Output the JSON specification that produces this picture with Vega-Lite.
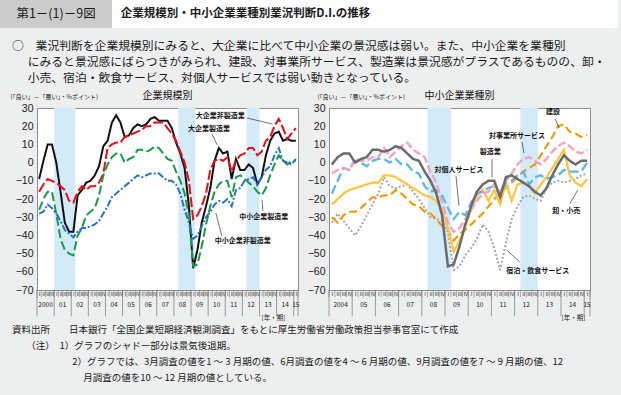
{
  "$schema": "https://vega.github.io/schema/vega-lite/v6.json",
  "background": "#edeeee",
  "padding": 0,
  "autosize": {"type": "pad"},
  "spacing": 12,
  "datasets": {
    "left": [
      {"s":"大企業製造業","t":0,"v":-9},{"s":"大企業製造業","t":1,"v":1},{"s":"大企業製造業","t":2,"v":10},{"s":"大企業製造業","t":3,"v":10},{"s":"大企業製造業","t":4,"v":0},{"s":"大企業製造業","t":5,"v":-16},{"s":"大企業製造業","t":6,"v":-33},{"s":"大企業製造業","t":7,"v":-38},{"s":"大企業製造業","t":8,"v":-38},{"s":"大企業製造業","t":9,"v":-18},
      {"s":"大企業製造業","t":10,"v":-15},{"s":"大企業製造業","t":11,"v":-11},{"s":"大企業製造業","t":12,"v":-10},{"s":"大企業製造業","t":13,"v":-7},{"s":"大企業製造業","t":14,"v":-2},{"s":"大企業製造業","t":15,"v":9},{"s":"大企業製造業","t":16,"v":12},{"s":"大企業製造業","t":17,"v":22},{"s":"大企業製造業","t":18,"v":26},{"s":"大企業製造業","t":19,"v":22},
      {"s":"大企業製造業","t":20,"v":14},{"s":"大企業製造業","t":21,"v":15},{"s":"大企業製造業","t":22,"v":19},{"s":"大企業製造業","t":23,"v":21},{"s":"大企業製造業","t":24,"v":20},{"s":"大企業製造業","t":25,"v":21},{"s":"大企業製造業","t":26,"v":24},{"s":"大企業製造業","t":27,"v":25},{"s":"大企業製造業","t":28,"v":23},{"s":"大企業製造業","t":29,"v":23},
      {"s":"大企業製造業","t":30,"v":23},{"s":"大企業製造業","t":31,"v":19},{"s":"大企業製造業","t":32,"v":11},{"s":"大企業製造業","t":33,"v":5},{"s":"大企業製造業","t":34,"v":-3},{"s":"大企業製造業","t":35,"v":-24},{"s":"大企業製造業","t":36,"v":-58},{"s":"大企業製造業","t":37,"v":-48},{"s":"大企業製造業","t":38,"v":-33},{"s":"大企業製造業","t":39,"v":-24},
      {"s":"大企業製造業","t":40,"v":-14},{"s":"大企業製造業","t":41,"v":1},{"s":"大企業製造業","t":42,"v":8},{"s":"大企業製造業","t":43,"v":5},{"s":"大企業製造業","t":44,"v":6},{"s":"大企業製造業","t":45,"v":-9},{"s":"大企業製造業","t":46,"v":2},{"s":"大企業製造業","t":47,"v":-4},{"s":"大企業製造業","t":48,"v":-4},{"s":"大企業製造業","t":49,"v":-1},
      {"s":"大企業製造業","t":50,"v":-3},{"s":"大企業製造業","t":51,"v":-12},{"s":"大企業製造業","t":52,"v":-8},{"s":"大企業製造業","t":53,"v":4},{"s":"大企業製造業","t":54,"v":12},{"s":"大企業製造業","t":55,"v":16},{"s":"大企業製造業","t":56,"v":17},{"s":"大企業製造業","t":57,"v":12},{"s":"大企業製造業","t":58,"v":13},{"s":"大企業製造業","t":59,"v":12},{"s":"大企業製造業","t":60,"v":12},
      {"s":"大企業非製造業","t":0,"v":-16},{"s":"大企業非製造業","t":1,"v":-12},{"s":"大企業非製造業","t":2,"v":-9},{"s":"大企業非製造業","t":3,"v":-10},{"s":"大企業非製造業","t":4,"v":-11},{"s":"大企業非製造業","t":5,"v":-13},{"s":"大企業非製造業","t":6,"v":-15},{"s":"大企業非製造業","t":7,"v":-21},{"s":"大企業非製造業","t":8,"v":-22},{"s":"大企業非製造業","t":9,"v":-16},
      {"s":"大企業非製造業","t":10,"v":-13},{"s":"大企業非製造業","t":11,"v":-15},{"s":"大企業非製造業","t":12,"v":-13},{"s":"大企業非製造業","t":13,"v":-13},{"s":"大企業非製造業","t":14,"v":-11},{"s":"大企業非製造業","t":15,"v":-6},{"s":"大企業非製造業","t":16,"v":8},{"s":"大企業非製造業","t":17,"v":10},{"s":"大企業非製造業","t":18,"v":11},{"s":"大企業非製造業","t":19,"v":11},
      {"s":"大企業非製造業","t":20,"v":14},{"s":"大企業非製造業","t":21,"v":15},{"s":"大企業非製造業","t":22,"v":16},{"s":"大企業非製造業","t":23,"v":17},{"s":"大企業非製造業","t":24,"v":18},{"s":"大企業非製造業","t":25,"v":20},{"s":"大企業非製造業","t":26,"v":20},{"s":"大企業非製造業","t":27,"v":22},{"s":"大企業非製造業","t":28,"v":22},{"s":"大企業非製造業","t":29,"v":22},
      {"s":"大企業非製造業","t":30,"v":19},{"s":"大企業非製造業","t":31,"v":16},{"s":"大企業非製造業","t":32,"v":12},{"s":"大企業非製造業","t":33,"v":6},{"s":"大企業非製造業","t":34,"v":0},{"s":"大企業非製造業","t":35,"v":-10},{"s":"大企業非製造業","t":36,"v":-31},{"s":"大企業非製造業","t":37,"v":-29},{"s":"大企業非製造業","t":38,"v":-24},{"s":"大企業非製造業","t":39,"v":-17},
      {"s":"大企業非製造業","t":40,"v":-4},{"s":"大企業非製造業","t":41,"v":1},{"s":"大企業非製造業","t":42,"v":2},{"s":"大企業非製造業","t":43,"v":1},{"s":"大企業非製造業","t":44,"v":3},{"s":"大企業非製造業","t":45,"v":-5},{"s":"大企業非製造業","t":46,"v":1},{"s":"大企業非製造業","t":47,"v":4},{"s":"大企業非製造業","t":48,"v":5},{"s":"大企業非製造業","t":49,"v":8},
      {"s":"大企業非製造業","t":50,"v":8},{"s":"大企業非製造業","t":51,"v":4},{"s":"大企業非製造業","t":52,"v":6},{"s":"大企業非製造業","t":53,"v":12},{"s":"大企業非製造業","t":54,"v":14},{"s":"大企業非製造業","t":55,"v":20},{"s":"大企業非製造業","t":56,"v":24},{"s":"大企業非製造業","t":57,"v":19},{"s":"大企業非製造業","t":58,"v":13},{"s":"大企業非製造業","t":59,"v":16},{"s":"大企業非製造業","t":60,"v":19},
      {"s":"中小企業製造業","t":0,"v":-26},{"s":"中小企業製造業","t":1,"v":-20},{"s":"中小企業製造業","t":2,"v":-16},{"s":"中小企業製造業","t":3,"v":-16},{"s":"中小企業製造業","t":4,"v":-28},{"s":"中小企業製造業","t":5,"v":-42},{"s":"中小企業製造業","t":6,"v":-48},{"s":"中小企業製造業","t":7,"v":-50},{"s":"中小企業製造業","t":8,"v":-51},{"s":"中小企業製造業","t":9,"v":-40},
      {"s":"中小企業製造業","t":10,"v":-36},{"s":"中小企業製造業","t":11,"v":-29},{"s":"中小企業製造業","t":12,"v":-27},{"s":"中小企業製造業","t":13,"v":-25},{"s":"中小企業製造業","t":14,"v":-18},{"s":"中小企業製造業","t":15,"v":-7},{"s":"中小企業製造業","t":16,"v":-1},{"s":"中小企業製造業","t":17,"v":3},{"s":"中小企業製造業","t":18,"v":5},{"s":"中小企業製造業","t":19,"v":5},
      {"s":"中小企業製造業","t":20,"v":0},{"s":"中小企業製造業","t":21,"v":2},{"s":"中小企業製造業","t":22,"v":3},{"s":"中小企業製造業","t":23,"v":7},{"s":"中小企業製造業","t":24,"v":7},{"s":"中小企業製造業","t":25,"v":6},{"s":"中小企業製造業","t":26,"v":7},{"s":"中小企業製造業","t":27,"v":9},{"s":"中小企業製造業","t":28,"v":8},{"s":"中小企業製造業","t":29,"v":5},
      {"s":"中小企業製造業","t":30,"v":2},{"s":"中小企業製造業","t":31,"v":1},{"s":"中小企業製造業","t":32,"v":-5},{"s":"中小企業製造業","t":33,"v":-10},{"s":"中小企業製造業","t":34,"v":-17},{"s":"中小企業製造業","t":35,"v":-29},{"s":"中小企業製造業","t":36,"v":-57},{"s":"中小企業製造業","t":37,"v":-56},{"s":"中小企業製造業","t":38,"v":-46},{"s":"中小企業製造業","t":39,"v":-34},
      {"s":"中小企業製造業","t":40,"v":-24},{"s":"中小企業製造業","t":41,"v":-16},{"s":"中小企業製造業","t":42,"v":-12},{"s":"中小企業製造業","t":43,"v":-10},{"s":"中小企業製造業","t":44,"v":-10},{"s":"中小企業製造業","t":45,"v":-19},{"s":"中小企業製造業","t":46,"v":-8},{"s":"中小企業製造業","t":47,"v":-7},{"s":"中小企業製造業","t":48,"v":-9},{"s":"中小企業製造業","t":49,"v":-11},
      {"s":"中小企業製造業","t":50,"v":-13},{"s":"中小企業製造業","t":51,"v":-16},{"s":"中小企業製造業","t":52,"v":-18},{"s":"中小企業製造業","t":53,"v":-14},{"s":"中小企業製造業","t":54,"v":-7},{"s":"中小企業製造業","t":55,"v":-1},{"s":"中小企業製造業","t":56,"v":4},{"s":"中小企業製造業","t":57,"v":1},{"s":"中小企業製造業","t":58,"v":-1},{"s":"中小企業製造業","t":59,"v":1},{"s":"中小企業製造業","t":60,"v":1},
      {"s":"中小企業非製造業","t":0,"v":-28},{"s":"中小企業非製造業","t":1,"v":-27},{"s":"中小企業非製造業","t":2,"v":-23},{"s":"中小企業非製造業","t":3,"v":-25},{"s":"中小企業非製造業","t":4,"v":-28},{"s":"中小企業非製造業","t":5,"v":-32},{"s":"中小企業非製造業","t":6,"v":-37},{"s":"中小企業非製造業","t":7,"v":-39},{"s":"中小企業非製造業","t":8,"v":-41},{"s":"中小企業非製造業","t":9,"v":-38},
      {"s":"中小企業非製造業","t":10,"v":-36},{"s":"中小企業非製造業","t":11,"v":-36},{"s":"中小企業非製造業","t":12,"v":-35},{"s":"中小企業非製造業","t":13,"v":-34},{"s":"中小企業非製造業","t":14,"v":-32},{"s":"中小企業非製造業","t":15,"v":-28},{"s":"中小企業非製造業","t":16,"v":-24},{"s":"中小企業非製造業","t":17,"v":-19},{"s":"中小企業非製造業","t":18,"v":-17},{"s":"中小企業非製造業","t":19,"v":-15},
      {"s":"中小企業非製造業","t":20,"v":-13},{"s":"中小企業非製造業","t":21,"v":-11},{"s":"中小企業非製造業","t":22,"v":-9},{"s":"中小企業非製造業","t":23,"v":-7},{"s":"中小企業非製造業","t":24,"v":-8},{"s":"中小企業非製造業","t":25,"v":-7},{"s":"中小企業非製造業","t":26,"v":-6},{"s":"中小企業非製造業","t":27,"v":-6},{"s":"中小企業非製造業","t":28,"v":-6},{"s":"中小企業非製造業","t":29,"v":-8},
      {"s":"中小企業非製造業","t":30,"v":-10},{"s":"中小企業非製造業","t":31,"v":-10},{"s":"中小企業非製造業","t":32,"v":-12},{"s":"中小企業非製造業","t":33,"v":-17},{"s":"中小企業非製造業","t":34,"v":-26},{"s":"中小企業非製造業","t":35,"v":-33},{"s":"中小企業非製造業","t":36,"v":-42},{"s":"中小企業非製造業","t":37,"v":-40},{"s":"中小企業非製造業","t":38,"v":-35},{"s":"中小企業非製造業","t":39,"v":-30},
      {"s":"中小企業非製造業","t":40,"v":-27},{"s":"中小企業非製造業","t":41,"v":-23},{"s":"中小企業非製造業","t":42,"v":-21},{"s":"中小企業非製造業","t":43,"v":-22},{"s":"中小企業非製造業","t":44,"v":-20},{"s":"中小企業非製造業","t":45,"v":-24},{"s":"中小企業非製造業","t":46,"v":-15},{"s":"中小企業非製造業","t":47,"v":-14},{"s":"中小企業非製造業","t":48,"v":-10},{"s":"中小企業非製造業","t":49,"v":-9},
      {"s":"中小企業非製造業","t":50,"v":-8},{"s":"中小企業非製造業","t":51,"v":-12},{"s":"中小企業非製造業","t":52,"v":-8},{"s":"中小企業非製造業","t":53,"v":-4},{"s":"中小企業非製造業","t":54,"v":-2},{"s":"中小企業非製造業","t":55,"v":4},{"s":"中小企業非製造業","t":56,"v":8},{"s":"中小企業非製造業","t":57,"v":1},{"s":"中小企業非製造業","t":58,"v":0},{"s":"中小企業非製造業","t":59,"v":-1},{"s":"中小企業非製造業","t":60,"v":2}
    ],
    "right": [
      {"s":"宿泊・飲食サービス","t":0,"v":-33},{"s":"宿泊・飲食サービス","t":1,"v":-28},{"s":"宿泊・飲食サービス","t":2,"v":-32},{"s":"宿泊・飲食サービス","t":3,"v":-36},{"s":"宿泊・飲食サービス","t":4,"v":-40},{"s":"宿泊・飲食サービス","t":5,"v":-35},{"s":"宿泊・飲食サービス","t":6,"v":-29},{"s":"宿泊・飲食サービス","t":7,"v":-23},{"s":"宿泊・飲食サービス","t":8,"v":-17},{"s":"宿泊・飲食サービス","t":9,"v":-8},
      {"s":"宿泊・飲食サービス","t":10,"v":-13},{"s":"宿泊・飲食サービス","t":11,"v":-14},{"s":"宿泊・飲食サービス","t":12,"v":-13},{"s":"宿泊・飲食サービス","t":13,"v":-12},{"s":"宿泊・飲食サービス","t":14,"v":-16},{"s":"宿泊・飲食サービス","t":15,"v":-20},{"s":"宿泊・飲食サービス","t":16,"v":-25},{"s":"宿泊・飲食サービス","t":17,"v":-30},{"s":"宿泊・飲食サービス","t":18,"v":-31},{"s":"宿泊・飲食サービス","t":19,"v":-32},
      {"s":"宿泊・飲食サービス","t":20,"v":-38},{"s":"宿泊・飲食サービス","t":21,"v":-59},{"s":"宿泊・飲食サービス","t":22,"v":-57},{"s":"宿泊・飲食サービス","t":23,"v":-51},{"s":"宿泊・飲食サービス","t":24,"v":-47},{"s":"宿泊・飲食サービス","t":25,"v":-42},{"s":"宿泊・飲食サービス","t":26,"v":-34},{"s":"宿泊・飲食サービス","t":27,"v":-38},{"s":"宿泊・飲食サービス","t":28,"v":-47},{"s":"宿泊・飲食サービス","t":29,"v":-59},
      {"s":"宿泊・飲食サービス","t":30,"v":-44},{"s":"宿泊・飲食サービス","t":31,"v":-31},{"s":"宿泊・飲食サービス","t":32,"v":-24},{"s":"宿泊・飲食サービス","t":33,"v":-19},{"s":"宿泊・飲食サービス","t":34,"v":-18},{"s":"宿泊・飲食サービス","t":35,"v":-20},{"s":"宿泊・飲食サービス","t":36,"v":-21},{"s":"宿泊・飲食サービス","t":37,"v":-14},{"s":"宿泊・飲食サービス","t":38,"v":-11},{"s":"宿泊・飲食サービス","t":39,"v":-10},
      {"s":"宿泊・飲食サービス","t":40,"v":-11},{"s":"宿泊・飲食サービス","t":41,"v":-10},{"s":"宿泊・飲食サービス","t":42,"v":-9},{"s":"宿泊・飲食サービス","t":43,"v":-7},{"s":"宿泊・飲食サービス","t":44,"v":-6},
      {"s":"建設","t":0,"v":-30},{"s":"建設","t":1,"v":-33},{"s":"建設","t":2,"v":-29},{"s":"建設","t":3,"v":-27},{"s":"建設","t":4,"v":-27},{"s":"建設","t":5,"v":-25},{"s":"建設","t":6,"v":-22},{"s":"建設","t":7,"v":-19},{"s":"建設","t":8,"v":-19},{"s":"建設","t":9,"v":-18},
      {"s":"建設","t":10,"v":-18},{"s":"建設","t":11,"v":-15},{"s":"建設","t":12,"v":-17},{"s":"建設","t":13,"v":-20},{"s":"建設","t":14,"v":-23},{"s":"建設","t":15,"v":-24},{"s":"建設","t":16,"v":-27},{"s":"建設","t":17,"v":-28},{"s":"建設","t":18,"v":-31},{"s":"建設","t":19,"v":-35},
      {"s":"建設","t":20,"v":-37},{"s":"建設","t":21,"v":-43},{"s":"建設","t":22,"v":-39},{"s":"建設","t":23,"v":-37},{"s":"建設","t":24,"v":-34},{"s":"建設","t":25,"v":-31},{"s":"建設","t":26,"v":-28},{"s":"建設","t":27,"v":-24},{"s":"建設","t":28,"v":-20},{"s":"建設","t":29,"v":-17},
      {"s":"建設","t":30,"v":-14},{"s":"建設","t":31,"v":-11},{"s":"建設","t":32,"v":-8},{"s":"建設","t":33,"v":-5},{"s":"建設","t":34,"v":-3},{"s":"建設","t":35,"v":-1},{"s":"建設","t":36,"v":4},{"s":"建設","t":37,"v":9},{"s":"建設","t":38,"v":14},{"s":"建設","t":39,"v":20},
      {"s":"建設","t":40,"v":21},{"s":"建設","t":41,"v":17},{"s":"建設","t":42,"v":16},{"s":"建設","t":43,"v":14},{"s":"建設","t":44,"v":15},
      {"s":"卸・小売","t":0,"v":-23},{"s":"卸・小売","t":1,"v":-20},{"s":"卸・小売","t":2,"v":-17},{"s":"卸・小売","t":3,"v":-15},{"s":"卸・小売","t":4,"v":-14},{"s":"卸・小売","t":5,"v":-13},{"s":"卸・小売","t":6,"v":-12},{"s":"卸・小売","t":7,"v":-11},{"s":"卸・小売","t":8,"v":-11},{"s":"卸・小売","t":9,"v":-7},
      {"s":"卸・小売","t":10,"v":-7},{"s":"卸・小売","t":11,"v":-8},{"s":"卸・小売","t":12,"v":-10},{"s":"卸・小売","t":13,"v":-12},{"s":"卸・小売","t":14,"v":-14},{"s":"卸・小売","t":15,"v":-16},{"s":"卸・小売","t":16,"v":-18},{"s":"卸・小売","t":17,"v":-19},{"s":"卸・小売","t":18,"v":-21},{"s":"卸・小売","t":19,"v":-26},
      {"s":"卸・小売","t":20,"v":-36},{"s":"卸・小売","t":21,"v":-49},{"s":"卸・小売","t":22,"v":-43},{"s":"卸・小売","t":23,"v":-35},{"s":"卸・小売","t":24,"v":-26},{"s":"卸・小売","t":25,"v":-18},{"s":"卸・小売","t":26,"v":-15},{"s":"卸・小売","t":27,"v":-21},{"s":"卸・小売","t":28,"v":-15},{"s":"卸・小売","t":29,"v":-23},
      {"s":"卸・小売","t":30,"v":-11},{"s":"卸・小売","t":31,"v":-21},{"s":"卸・小売","t":32,"v":-12},{"s":"卸・小売","t":33,"v":-11},{"s":"卸・小売","t":34,"v":-13},{"s":"卸・小売","t":35,"v":-17},{"s":"卸・小売","t":36,"v":-12},{"s":"卸・小売","t":37,"v":-8},{"s":"卸・小売","t":38,"v":-3},{"s":"卸・小売","t":39,"v":2},
      {"s":"卸・小売","t":40,"v":7},{"s":"卸・小売","t":41,"v":-7},{"s":"卸・小売","t":42,"v":-11},{"s":"卸・小売","t":43,"v":-13},{"s":"卸・小売","t":44,"v":-9},
      {"s":"対個人サービス","t":0,"v":-17},{"s":"対個人サービス","t":1,"v":-10},{"s":"対個人サービス","t":2,"v":-3},{"s":"対個人サービス","t":3,"v":-4},{"s":"対個人サービス","t":4,"v":1},{"s":"対個人サービス","t":5,"v":0},{"s":"対個人サービス","t":6,"v":-2},{"s":"対個人サービス","t":7,"v":1},{"s":"対個人サービス","t":8,"v":2},{"s":"対個人サービス","t":9,"v":2},
      {"s":"対個人サービス","t":10,"v":0},{"s":"対個人サービス","t":11,"v":2},{"s":"対個人サービス","t":12,"v":-1},{"s":"対個人サービス","t":13,"v":-1},{"s":"対個人サービス","t":14,"v":-5},{"s":"対個人サービス","t":15,"v":-6},{"s":"対個人サービス","t":16,"v":-13},{"s":"対個人サービス","t":17,"v":-16},{"s":"対個人サービス","t":18,"v":-15},{"s":"対個人サービス","t":19,"v":-18},
      {"s":"対個人サービス","t":20,"v":-25},{"s":"対個人サービス","t":21,"v":-31},{"s":"対個人サービス","t":22,"v":-27},{"s":"対個人サービス","t":23,"v":-29},{"s":"対個人サービス","t":24,"v":-22},{"s":"対個人サービス","t":25,"v":-17},{"s":"対個人サービス","t":26,"v":-16},{"s":"対個人サービス","t":27,"v":-14},{"s":"対個人サービス","t":28,"v":-13},{"s":"対個人サービス","t":29,"v":-18},
      {"s":"対個人サービス","t":30,"v":-11},{"s":"対個人サービス","t":31,"v":-10},{"s":"対個人サービス","t":32,"v":-7},{"s":"対個人サービス","t":33,"v":-5},{"s":"対個人サービス","t":34,"v":-12},{"s":"対個人サービス","t":35,"v":-8},{"s":"対個人サービス","t":36,"v":-7},{"s":"対個人サービス","t":37,"v":-9},{"s":"対個人サービス","t":38,"v":-8},{"s":"対個人サービス","t":39,"v":-7},
      {"s":"対個人サービス","t":40,"v":-4},{"s":"対個人サービス","t":41,"v":-5},{"s":"対個人サービス","t":42,"v":-5},{"s":"対個人サービス","t":43,"v":-5},{"s":"対個人サービス","t":44,"v":0},
      {"s":"対事業所サービス","t":0,"v":-6},{"s":"対事業所サービス","t":1,"v":-4},{"s":"対事業所サービス","t":2,"v":-3},{"s":"対事業所サービス","t":3,"v":-4},{"s":"対事業所サービス","t":4,"v":2},{"s":"対事業所サービス","t":5,"v":1},{"s":"対事業所サービス","t":6,"v":1},{"s":"対事業所サービス","t":7,"v":3},{"s":"対事業所サービス","t":8,"v":3},{"s":"対事業所サービス","t":9,"v":8},
      {"s":"対事業所サービス","t":10,"v":3},{"s":"対事業所サービス","t":11,"v":6},{"s":"対事業所サービス","t":12,"v":9},{"s":"対事業所サービス","t":13,"v":11},{"s":"対事業所サービス","t":14,"v":7},{"s":"対事業所サービス","t":15,"v":5},{"s":"対事業所サービス","t":16,"v":3},{"s":"対事業所サービス","t":17,"v":-5},{"s":"対事業所サービス","t":18,"v":-11},{"s":"対事業所サービス","t":19,"v":-22},
      {"s":"対事業所サービス","t":20,"v":-33},{"s":"対事業所サービス","t":21,"v":-38},{"s":"対事業所サービス","t":22,"v":-36},{"s":"対事業所サービス","t":23,"v":-31},{"s":"対事業所サービス","t":24,"v":-26},{"s":"対事業所サービス","t":25,"v":-21},{"s":"対事業所サービス","t":26,"v":-17},{"s":"対事業所サービス","t":27,"v":-16},{"s":"対事業所サービス","t":28,"v":-12},{"s":"対事業所サービス","t":29,"v":-16},
      {"s":"対事業所サービス","t":30,"v":-10},{"s":"対事業所サービス","t":31,"v":-6},{"s":"対事業所サービス","t":32,"v":-1},{"s":"対事業所サービス","t":33,"v":2},{"s":"対事業所サービス","t":34,"v":3},{"s":"対事業所サービス","t":35,"v":1},{"s":"対事業所サービス","t":36,"v":-1},{"s":"対事業所サービス","t":37,"v":2},{"s":"対事業所サービス","t":38,"v":6},{"s":"対事業所サービス","t":39,"v":9},
      {"s":"対事業所サービス","t":40,"v":11},{"s":"対事業所サービス","t":41,"v":9},{"s":"対事業所サービス","t":42,"v":6},{"s":"対事業所サービス","t":43,"v":5},{"s":"対事業所サービス","t":44,"v":7},
      {"s":"製造業","t":0,"v":-1},{"s":"製造業","t":1,"v":3},{"s":"製造業","t":2,"v":5},{"s":"製造業","t":3,"v":5},{"s":"製造業","t":4,"v":0},{"s":"製造業","t":5,"v":2},{"s":"製造業","t":6,"v":3},{"s":"製造業","t":7,"v":7},{"s":"製造業","t":8,"v":7},{"s":"製造業","t":9,"v":6},
      {"s":"製造業","t":10,"v":7},{"s":"製造業","t":11,"v":9},{"s":"製造業","t":12,"v":8},{"s":"製造業","t":13,"v":5},{"s":"製造業","t":14,"v":2},{"s":"製造業","t":15,"v":1},{"s":"製造業","t":16,"v":-5},{"s":"製造業","t":17,"v":-10},{"s":"製造業","t":18,"v":-17},{"s":"製造業","t":19,"v":-29},
      {"s":"製造業","t":20,"v":-57},{"s":"製造業","t":21,"v":-56},{"s":"製造業","t":22,"v":-46},{"s":"製造業","t":23,"v":-34},{"s":"製造業","t":24,"v":-24},{"s":"製造業","t":25,"v":-16},{"s":"製造業","t":26,"v":-12},{"s":"製造業","t":27,"v":-10},{"s":"製造業","t":28,"v":-10},{"s":"製造業","t":29,"v":-19},
      {"s":"製造業","t":30,"v":-8},{"s":"製造業","t":31,"v":-7},{"s":"製造業","t":32,"v":-9},{"s":"製造業","t":33,"v":-11},{"s":"製造業","t":34,"v":-13},{"s":"製造業","t":35,"v":-16},{"s":"製造業","t":36,"v":-18},{"s":"製造業","t":37,"v":-14},{"s":"製造業","t":38,"v":-7},{"s":"製造業","t":39,"v":-1},
      {"s":"製造業","t":40,"v":4},{"s":"製造業","t":41,"v":1},{"s":"製造業","t":42,"v":-1},{"s":"製造業","t":43,"v":1},{"s":"製造業","t":44,"v":1}
    ]
  },
  "vconcat": [
    {
      "spacing": 0,
      "hconcat": [
        {
          "width": 112, "height": 28,
          "view": {"stroke": null},
          "data": {"values": [{"label": "第1－(1)－9図"}]},
          "layer": [
            {"mark": {"type": "rect", "color": "#cbcbcb"}, "encoding": {}},
            {"mark": {"type": "text", "fontSize": 12.5, "color": "#1a1a1a", "baseline": "middle"}, "encoding": {"text": {"field": "label"}}}
          ]
        },
        {
          "width": 267, "height": 28,
          "view": {"stroke": null},
          "data": {"values": [{"label": "企業規模別・中小企業業種別業況判断D.I.の推移"}]},
          "layer": [
            {"mark": {"type": "rect", "color": "#ffffff"}, "encoding": {}},
            {"mark": {"type": "text", "fontSize": 11.5, "fontWeight": "bold", "color": "#1a1a1a", "baseline": "middle"}, "encoding": {"text": {"field": "label"}}}
          ]
        },
        {
          "width": 239, "height": 28,
          "view": {"stroke": null},
          "data": {"values": [{}]},
          "mark": {"type": "rect", "color": "#ffffff"},
          "encoding": {}
        }
      ]
    },
    {
      "spacing": 2,
      "title": {
        "text": [
          "○\u3000業況判断を企業規模別にみると、大企業に比べて中小企業の景況感は弱い。また、中小企業を業種別",
          "\u200d\u3000\u2004にみると景況感にばらつきがみられ、建設、対事業所サービス、製造業は景況感がプラスであるものの、卸・",
          "\u200d\u3000\u2004小売、宿泊・飲食サービス、対個人サービスでは弱い動きとなっている。"
        ],
        "anchor": "start", "frame": "bounds", "dx": 12, "fontSize": 11.8, "fontWeight": "normal", "lineHeight": 16, "offset": 6, "color": "#1a1a1a"
      },
      "vconcat": [
        {
          "spacing": 31,
          "bounds": "flush",
          "resolve": {"scale": {"color": "independent", "strokeDash": "independent", "strokeWidth": "independent", "x": "independent", "y": "independent"}},
          "hconcat": [
            {
              "width": 6, "height": 182,
              "view": {"stroke": null},
              "data": {"values": [{}]},
              "mark": {"type": "text", "text": ""}
            },
            {
              "width": 261, "height": 182,
              "view": {"fill": "#ffffff", "stroke": "#8c8c8c", "strokeWidth": 1},
              "title": {"text": "企業規模別", "fontSize": 10, "fontWeight": "normal", "color": "#111111", "offset": -8, "anchor": "middle"},
              "resolve": {"axis": {"x": "independent", "y": "independent"}},
              "layer": [
                {
                  "data": {"values": [{"start": 3.5, "end": 8.5}, {"start": 32.5, "end": 36.5}, {"start": 48.5, "end": 51.5}]},
                  "mark": {"type": "rect", "color": "#d3eaf8"},
                  "encoding": {
                    "x": {"field": "start", "type": "quantitative", "axis": null},
                    "x2": {"field": "end"},
                    "y": {"datum": 30, "type": "quantitative", "axis": null},
                    "y2": {"datum": -70}
                  }
                },
                {
                  "mark": {"type": "rule", "color": "#888888", "strokeWidth": 1},
                  "encoding": {"y": {"datum": 0, "type": "quantitative", "axis": null}}
                },
                {
                  "data": {"values": [{"b":-0.5},{"b":0.5},{"b":1.5},{"b":2.5},{"b":3.5},{"b":4.5},{"b":5.5},{"b":6.5},{"b":7.5},{"b":8.5},{"b":9.5},{"b":10.5},{"b":11.5},{"b":12.5},{"b":13.5},{"b":14.5},{"b":15.5},{"b":16.5},{"b":17.5},{"b":18.5},{"b":19.5},{"b":20.5},{"b":21.5},{"b":22.5},{"b":23.5},{"b":24.5},{"b":25.5},{"b":26.5},{"b":27.5},{"b":28.5},{"b":29.5},{"b":30.5},{"b":31.5},{"b":32.5},{"b":33.5},{"b":34.5},{"b":35.5},{"b":36.5},{"b":37.5},{"b":38.5},{"b":39.5},{"b":40.5},{"b":41.5},{"b":42.5},{"b":43.5},{"b":44.5},{"b":45.5},{"b":46.5},{"b":47.5},{"b":48.5},{"b":49.5},{"b":50.5},{"b":51.5},{"b":52.5},{"b":53.5},{"b":54.5},{"b":55.5},{"b":56.5},{"b":57.5},{"b":58.5},{"b":59.5},{"b":60.5}]},
                  "mark": {"type": "rule", "color": "#777777", "strokeWidth": 0.6},
                  "encoding": {"x": {"field": "b", "type": "quantitative", "axis": null}, "y": {"datum": -70, "type": "quantitative", "axis": null}, "y2": {"datum": -74}}
                },
                {
                  "data": {"values": [{"b": -0.5}, {"b": 3.5}, {"b": 7.5}, {"b": 11.5}, {"b": 15.5}, {"b": 19.5}, {"b": 23.5}, {"b": 27.5}, {"b": 31.5}, {"b": 35.5}, {"b": 39.5}, {"b": 43.5}, {"b": 47.5}, {"b": 51.5}, {"b": 55.5}, {"b": 59.5}, {"b": 60.5}]},
                  "mark": {"type": "rule", "color": "#777777", "strokeWidth": 0.7},
                  "encoding": {"x": {"field": "b", "type": "quantitative", "axis": null}, "y": {"datum": -70, "type": "quantitative", "axis": null}, "y2": {"datum": -84.5}}
                },
                {
                  "data": {"values": [{"t": 1.5, "label": "2000"}, {"t": 5.5, "label": "01"}, {"t": 9.5, "label": "02"}, {"t": 13.5, "label": "03"}, {"t": 17.5, "label": "04"}, {"t": 21.5, "label": "05"}, {"t": 25.5, "label": "06"}, {"t": 29.5, "label": "07"}, {"t": 33.5, "label": "08"}, {"t": 37.5, "label": "09"}, {"t": 41.5, "label": "10"}, {"t": 45.5, "label": "11"}, {"t": 49.5, "label": "12"}, {"t": 53.5, "label": "13"}, {"t": 57.5, "label": "14"}, {"t": 60, "label": "15"}]},
                  "mark": {"type": "text", "fontSize": 6.5, "color": "#222222", "baseline": "middle"},
                  "encoding": {"x": {"field": "t", "type": "quantitative", "axis": null}, "y": {"datum": -78, "type": "quantitative", "axis": null}, "text": {"field": "label"}}
                },
                {
                  "data": {"name": "left"},
                  "mark": {"type": "line", "strokeWidth": 2},
                  "encoding": {
                    "x": {"field": "t", "type": "quantitative", "scale": {"domain": [-0.5, 60.5], "nice": false, "zero": false},
                      "axis": {
                        "title": "[年・期]", "titleFontSize": 6.5, "titleFontWeight": "normal", "titleColor": "#222222", "titleAnchor": "end", "titleX": 248, "titleAlign": "right", "titlePadding": 18,
                        "values": [0,1,2,3,4,5,6,7,8,9,10,11,12,13,14,15,16,17,18,19,20,21,22,23,24,25,26,27,28,29,30,31,32,33,34,35,36,37,38,39,40,41,42,43,44,45,46,47,48,49,50,51,52,53,54,55,56,57,58,59,60],
                        "labelExpr": "['Ⅰ','Ⅱ','Ⅲ','Ⅳ'][datum.value % 4]",
                        "labelFontSize": 4.6, "labelPadding": 1.5, "labelColor": "#222222", "labelAngle": 0,
                        "labelOverlap": false, "labelFlush": false, "labelBound": false,
                        "ticks": false, "domain": false, "grid": false
                      }
                    },
                    "y": {"field": "v", "type": "quantitative", "scale": {"domain": [-70, 30], "nice": false, "zero": false},
                      "axis": {
                        "title": "(「良い」－「悪い」・%ポイント)", "titleAngle": 0, "titleX": -27, "titleY": -12, "titleAlign": "left", "titleBaseline": "middle", "titleFontSize": 6, "titleFontWeight": "normal", "titleColor": "#222222",
                        "values": [-70, -60, -50, -40, -30, -20, -10, 0, 10, 20, 30],
                        "labelExpr": "datum.value < 0 ? '−' + abs(datum.value) : '' + datum.value",
                        "labelFont": "Liberation Sans", "labelFontSize": 10.5, "labelColor": "#1a1a1a", "labelPadding": 4,
                        "labelOverlap": false, "labelFlush": false,
                        "ticks": false, "domain": false, "grid": false
                      }
                    },
                    "color": {"field": "s", "type": "nominal", "legend": null,
                      "scale": {"domain": ["大企業製造業", "大企業非製造業", "中小企業製造業", "中小企業非製造業"], "range": ["#111111", "#e60e19", "#1b9a4b", "#2673c8"]}},
                    "strokeDash": {"field": "s", "type": "nominal", "legend": null,
                      "scale": {"domain": ["大企業製造業", "大企業非製造業", "中小企業製造業", "中小企業非製造業"], "range": [[1, 0], [10, 3], [9, 3.5], [7, 2, 2, 2]]}}
                  }
                },
                {
                  "data": {"values": [
                    {"t1": 48.6, "v1": 24.5, "t2": 54.5, "v2": 21.2},
                    {"t1": 40.4, "v1": 15.7, "t2": 41.6, "v2": 9.7},
                    {"t1": 52.3, "v1": -26.6, "t2": 52.1, "v2": -20.5},
                    {"t1": 42.7, "v1": -40.3, "t2": 41.3, "v2": -27.7}
                  ]},
                  "mark": {"type": "rule", "color": "#333333", "strokeWidth": 0.7},
                  "encoding": {
                    "x": {"field": "t1", "type": "quantitative", "axis": null},
                    "y": {"field": "v1", "type": "quantitative", "axis": null},
                    "x2": {"field": "t2"},
                    "y2": {"field": "v2"}
                  }
                },
                {
                  "data": {"values": [
                    {"label": "大企業非製造業", "t": 42.3, "v": 25.6},
                    {"label": "大企業製造業", "t": 39.7, "v": 18.5},
                    {"label": "中小企業製造業", "t": 52.5, "v": -29.9},
                    {"label": "中小企業非製造業", "t": 47.6, "v": -43}
                  ]},
                  "mark": {"type": "text", "fontSize": 7, "fontWeight": "bold", "color": "#111111"},
                  "encoding": {
                    "x": {"field": "t", "type": "quantitative", "axis": null},
                    "y": {"field": "v", "type": "quantitative", "axis": null},
                    "text": {"field": "label"}
                  }
                }
              ]
            },
            {
              "width": 261, "height": 182,
              "view": {"fill": "#ffffff", "stroke": "#8c8c8c", "strokeWidth": 1},
              "title": {"text": "中小企業業種別", "fontSize": 10, "fontWeight": "normal", "color": "#111111", "offset": -8, "anchor": "middle"},
              "resolve": {"axis": {"x": "independent", "y": "independent"}},
              "layer": [
                {
                  "data": {"values": [{"start": 16.5, "end": 20.5}, {"start": 32.5, "end": 35.5}]},
                  "mark": {"type": "rect", "color": "#d3eaf8"},
                  "encoding": {
                    "x": {"field": "start", "type": "quantitative", "axis": null},
                    "x2": {"field": "end"},
                    "y": {"datum": 30, "type": "quantitative", "axis": null},
                    "y2": {"datum": -70}
                  }
                },
                {
                  "mark": {"type": "rule", "color": "#888888", "strokeWidth": 1},
                  "encoding": {"y": {"datum": 0, "type": "quantitative", "axis": null}}
                },
                {
                  "data": {"values": [{"b":-0.5},{"b":0.5},{"b":1.5},{"b":2.5},{"b":3.5},{"b":4.5},{"b":5.5},{"b":6.5},{"b":7.5},{"b":8.5},{"b":9.5},{"b":10.5},{"b":11.5},{"b":12.5},{"b":13.5},{"b":14.5},{"b":15.5},{"b":16.5},{"b":17.5},{"b":18.5},{"b":19.5},{"b":20.5},{"b":21.5},{"b":22.5},{"b":23.5},{"b":24.5},{"b":25.5},{"b":26.5},{"b":27.5},{"b":28.5},{"b":29.5},{"b":30.5},{"b":31.5},{"b":32.5},{"b":33.5},{"b":34.5},{"b":35.5},{"b":36.5},{"b":37.5},{"b":38.5},{"b":39.5},{"b":40.5},{"b":41.5},{"b":42.5},{"b":43.5},{"b":44.5}]},
                  "mark": {"type": "rule", "color": "#777777", "strokeWidth": 0.6},
                  "encoding": {"x": {"field": "b", "type": "quantitative", "axis": null}, "y": {"datum": -70, "type": "quantitative", "axis": null}, "y2": {"datum": -74}}
                },
                {
                  "data": {"values": [{"b": -0.5}, {"b": 3.5}, {"b": 7.5}, {"b": 11.5}, {"b": 15.5}, {"b": 19.5}, {"b": 23.5}, {"b": 27.5}, {"b": 31.5}, {"b": 35.5}, {"b": 39.5}, {"b": 43.5}, {"b": 44.5}]},
                  "mark": {"type": "rule", "color": "#777777", "strokeWidth": 0.7},
                  "encoding": {"x": {"field": "b", "type": "quantitative", "axis": null}, "y": {"datum": -70, "type": "quantitative", "axis": null}, "y2": {"datum": -84.5}}
                },
                {
                  "data": {"values": [{"t": 1.5, "label": "2004"}, {"t": 5.5, "label": "05"}, {"t": 9.5, "label": "06"}, {"t": 13.5, "label": "07"}, {"t": 17.5, "label": "08"}, {"t": 21.5, "label": "09"}, {"t": 25.5, "label": "10"}, {"t": 29.5, "label": "11"}, {"t": 33.5, "label": "12"}, {"t": 37.5, "label": "13"}, {"t": 41.5, "label": "14"}, {"t": 44, "label": "15"}]},
                  "mark": {"type": "text", "fontSize": 6.5, "color": "#222222", "baseline": "middle"},
                  "encoding": {"x": {"field": "t", "type": "quantitative", "axis": null}, "y": {"datum": -78, "type": "quantitative", "axis": null}, "text": {"field": "label"}}
                },
                {
                  "data": {"name": "right"},
                  "mark": {"type": "line"},
                  "encoding": {
                    "x": {"field": "t", "type": "quantitative", "scale": {"domain": [-0.5, 44.5], "nice": false, "zero": false},
                      "axis": {
                        "title": "[年・期]", "titleFontSize": 6.5, "titleFontWeight": "normal", "titleColor": "#222222", "titleAnchor": "end", "titleX": 256, "titleAlign": "right", "titlePadding": 18,
                        "values": [0,1,2,3,4,5,6,7,8,9,10,11,12,13,14,15,16,17,18,19,20,21,22,23,24,25,26,27,28,29,30,31,32,33,34,35,36,37,38,39,40,41,42,43,44],
                        "labelExpr": "['Ⅰ','Ⅱ','Ⅲ','Ⅳ'][datum.value % 4]",
                        "labelFontSize": 5.2, "labelPadding": 1.5, "labelColor": "#222222", "labelAngle": 0,
                        "labelOverlap": false, "labelFlush": false, "labelBound": false,
                        "ticks": false, "domain": false, "grid": false
                      }
                    },
                    "y": {"field": "v", "type": "quantitative", "scale": {"domain": [-70, 30], "nice": false, "zero": false},
                      "axis": {
                        "title": "(「良い」－「悪い」・%ポイント)", "titleAngle": 0, "titleX": -12, "titleY": -12, "titleAlign": "left", "titleBaseline": "middle", "titleFontSize": 6, "titleFontWeight": "normal", "titleColor": "#222222",
                        "values": [-70, -60, -50, -40, -30, -20, -10, 0, 10, 20, 30],
                        "labelExpr": "datum.value < 0 ? '−' + abs(datum.value) : '' + datum.value",
                        "labelFont": "Liberation Sans", "labelFontSize": 10.5, "labelColor": "#1a1a1a", "labelPadding": 4,
                        "labelOverlap": false, "labelFlush": false,
                        "ticks": false, "domain": false, "grid": false
                      }
                    },
                    "color": {"field": "s", "type": "nominal", "legend": null,
                      "scale": {"domain": ["宿泊・飲食サービス", "建設", "卸・小売", "対個人サービス", "対事業所サービス", "製造業"], "range": ["#a6a6a6", "#f39800", "#fdc33c", "#5cb6e8", "#f4a2c4", "#6b6b6b"]}},
                    "strokeDash": {"field": "s", "type": "nominal", "legend": null,
                      "scale": {"domain": ["宿泊・飲食サービス", "建設", "卸・小売", "対個人サービス", "対事業所サービス", "製造業"], "range": [[2, 2], [8, 4], [1, 0], [9, 4], [8, 3], [1, 0]]}},
                    "strokeWidth": {"field": "s", "type": "nominal", "legend": null,
                      "scale": {"domain": ["宿泊・飲食サービス", "建設", "卸・小売", "対個人サービス", "対事業所サービス", "製造業"], "range": [2, 2.5, 2, 2, 2, 2.2]}}
                  }
                },
                {
                  "data": {"values": [
                    {"t1": 38.5, "v1": 24, "t2": 39.2, "v2": 19},
                    {"t1": 32.8, "v1": 11.3, "t2": 33.1, "v2": 5.3},
                    {"t1": 27.6, "v1": 2, "t2": 27.6, "v2": -7.9},
                    {"t1": 21.4, "v1": -7.4, "t2": 21.9, "v2": -23.8},
                    {"t1": 41, "v1": -22.7, "t2": 42.4, "v2": -15},
                    {"t1": 32.4, "v1": -54.6, "t2": 30.3, "v2": -48.6}
                  ]},
                  "mark": {"type": "rule", "color": "#333333", "strokeWidth": 0.7},
                  "encoding": {
                    "x": {"field": "t1", "type": "quantitative", "axis": null},
                    "y": {"field": "v1", "type": "quantitative", "axis": null},
                    "x2": {"field": "t2"},
                    "y2": {"field": "v2"}
                  }
                },
                {
                  "data": {"values": [
                    {"label": "建設", "t": 38.1, "v": 27.8},
                    {"label": "対事業所サービス", "t": 31.9, "v": 14.6},
                    {"label": "製造業", "t": 27.3, "v": 5.8},
                    {"label": "対個人サービス", "t": 21.9, "v": -4},
                    {"label": "卸・小売", "t": 40.4, "v": -26.6},
                    {"label": "宿泊・飲食サービス", "t": 35.5, "v": -59.6}
                  ]},
                  "mark": {"type": "text", "fontSize": 7, "fontWeight": "bold", "color": "#111111"},
                  "encoding": {
                    "x": {"field": "t", "type": "quantitative", "axis": null},
                    "y": {"field": "v", "type": "quantitative", "axis": null},
                    "text": {"field": "label"}
                  }
                }
              ]
            }
          ]
        },
        {
          "width": 621, "height": 12,
          "view": {"stroke": null},
          "data": {"values": [{}]},
          "mark": {"type": "text", "text": ""},
          "title": {
            "text": [
              "資料出所\u3000\u3000日本銀行「全国企業短期経済観測調査」をもとに厚生労働省労働政策担当参事官室にて作成",
              "\u200d\u3000\u3000（注）\u30001）グラフのシャドー部分は景気後退期。",
              "\u200d\u3000\u3000\u3000\u3000\u3000\u3000\u20042）グラフでは、3月調査の値を1 ～ 3 月期の値、6月調査の値を4 ～ 6 月期の値、9月調査の値を7 ～ 9 月期の値、12",
              "\u200d\u3000\u3000\u3000\u3000\u3000\u3000\u3000\u2002月調査の値を10 ～ 12 月期の値としている。"
            ],
            "anchor": "start", "frame": "group", "dx": 12, "fontSize": 9.5, "fontWeight": "normal", "lineHeight": 16, "offset": 2, "color": "#1a1a1a"
          }
        }
      ]
    }
  ],
  "config": {
    "font": "Noto Sans CJK JP",
    "view": {"stroke": null},
    "title": {"font": "Noto Sans CJK JP"},
    "axis": {"labelFont": "Noto Sans CJK JP", "titleFont": "Noto Sans CJK JP"},
    "text": {"font": "Noto Sans CJK JP"}
  }
}
